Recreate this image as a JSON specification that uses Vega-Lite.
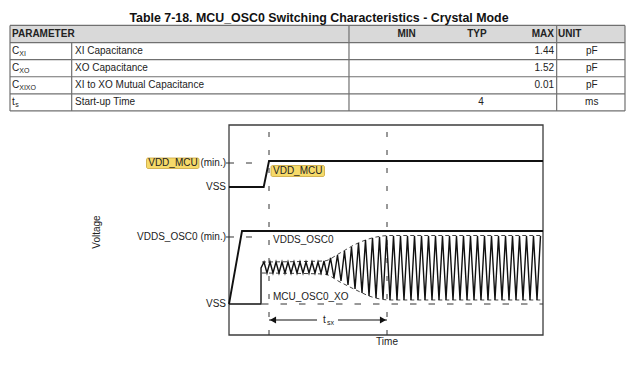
{
  "$schema": "https://vega.github.io/schema/vega-lite/v6.json",
  "width": 640,
  "height": 369,
  "autosize": "none",
  "padding": 0,
  "background": "white",
  "config": {"view": {"stroke": null}, "text": {"font": "Liberation Sans", "color": "#222"}},
  "datasets": {
    "tableTitle": [{"u": 50.24, "r": -0.918, "title": "Table 7-18. MCU_OSC0 Switching Characteristics - Crystal Mode"}],
    "tableFill": [{"u": 0, "u2": 100, "r": -0.5, "r2": 0.5}],
    "tableGrid": [
      {"u": 0, "u2": 100, "r": -0.5, "r2": -0.5},
      {"u": 0, "u2": 100, "r": 0.5, "r2": 0.5},
      {"u": 0, "u2": 100, "r": 1.5, "r2": 1.5},
      {"u": 0, "u2": 100, "r": 2.5, "r2": 2.5},
      {"u": 0, "u2": 100, "r": 3.5, "r2": 3.5},
      {"u": 0, "u2": 100, "r": 4.5, "r2": 4.5},
      {"u": 0, "u2": 0, "r": -0.5, "r2": 4.5},
      {"u": 10.03, "u2": 10.03, "r": 0.5, "r2": 4.5},
      {"u": 55.12, "u2": 55.12, "r": -0.5, "r2": 4.5},
      {"u": 88.89, "u2": 88.89, "r": -0.5, "r2": 4.5},
      {"u": 100, "u2": 100, "r": -0.5, "r2": 4.5}
    ],
    "tableHeader": [
      {"label": "PARAMETER", "u": 0.33, "r": 0},
      {"label": "MIN", "u": 64.5, "r": 0},
      {"label": "TYP", "u": 75.93, "r": 0},
      {"label": "MAX", "u": 88.46, "r": 0},
      {"label": "UNIT", "u": 89.11, "r": 0}
    ],
    "tableRows": [
      {"r": 1, "sym": "C", "sub": "XI", "param": "XI Capacitance", "max": "1.44", "unit": "pF"},
      {"r": 2, "sym": "C", "sub": "XO", "param": "XO Capacitance", "max": "1.52", "unit": "pF"},
      {"r": 3, "sym": "C", "sub": "XIXO", "param": "XI to XO Mutual Capacitance", "max": "0.01", "unit": "pF"},
      {"r": 4, "sym": "t", "sub": "s", "param": "Start-up Time", "typ": "4", "unit": "ms"}
    ],
    "highlights": [
      {"t": -26.27, "t2": -9.55, "v": 84.29, "v2": 79.29},
      {"t": 13.38, "t2": 30.41, "v": 80.71, "v2": 75.48}
    ],
    "frame": [{"t": 0, "t2": 100, "v": 0, "v2": 100}],
    "signals": [
      {"signal": "VDD_MCU", "t": 0, "v": 70.48},
      {"signal": "VDD_MCU", "t": 11.05, "v": 70.48},
      {"signal": "VDD_MCU", "t": 12.74, "v": 82.86},
      {"signal": "VDD_MCU", "t": 100, "v": 82.86},
      {"signal": "VDDS_OSC0", "t": 0, "v": 14.76},
      {"signal": "VDDS_OSC0", "t": 4.14, "v": 49.52},
      {"signal": "VDDS_OSC0", "t": 100, "v": 49.52}
    ],
    "xo": [
      {"t": 0, "v": 14.76}, {"t": 10.19, "v": 14.76}, {"t": 10.2, "v": 31.9}, {"t": 11.15, "v": 34.76},
      {"t": 12.10, "v": 29.52}, {"t": 13.06, "v": 34.76}, {"t": 14.01, "v": 29.52}, {"t": 14.97, "v": 34.76},
      {"t": 15.92, "v": 29.52}, {"t": 16.88, "v": 34.76}, {"t": 17.83, "v": 29.52}, {"t": 18.79, "v": 34.76},
      {"t": 19.75, "v": 29.52}, {"t": 20.70, "v": 34.76}, {"t": 21.66, "v": 29.52}, {"t": 22.61, "v": 34.76},
      {"t": 23.57, "v": 29.52}, {"t": 24.52, "v": 34.76}, {"t": 25.48, "v": 29.52}, {"t": 26.43, "v": 34.76},
      {"t": 27.39, "v": 29.52}, {"t": 28.34, "v": 34.76}, {"t": 29.30, "v": 29.52}, {"t": 30.25, "v": 35.24},
      {"t": 31.21, "v": 28.57}, {"t": 32.32, "v": 36.67}, {"t": 33.44, "v": 27.14}, {"t": 34.55, "v": 38.10},
      {"t": 35.67, "v": 25.71}, {"t": 36.78, "v": 40.00}, {"t": 37.90, "v": 23.81}, {"t": 39.01, "v": 41.90},
      {"t": 40.13, "v": 21.90}, {"t": 41.24, "v": 43.81}, {"t": 42.36, "v": 20.00}, {"t": 43.47, "v": 45.24},
      {"t": 44.59, "v": 18.57}, {"t": 45.70, "v": 46.19}, {"t": 46.82, "v": 17.62}, {"t": 47.93, "v": 46.67},
      {"t": 49.04, "v": 17.14}, {"t": 50.16, "v": 47.14},
      {"t": 51.27, "v": 16.67}, {"t": 52.39, "v": 47.14}, {"t": 53.50, "v": 16.67}, {"t": 54.62, "v": 47.14},
      {"t": 55.73, "v": 16.67}, {"t": 56.85, "v": 47.14}, {"t": 57.96, "v": 16.67}, {"t": 59.08, "v": 47.14},
      {"t": 60.19, "v": 16.67}, {"t": 61.31, "v": 47.14}, {"t": 62.42, "v": 16.67}, {"t": 63.54, "v": 47.14},
      {"t": 64.65, "v": 16.67}, {"t": 65.76, "v": 47.14}, {"t": 66.88, "v": 16.67}, {"t": 67.99, "v": 47.14},
      {"t": 69.11, "v": 16.67}, {"t": 70.22, "v": 47.14}, {"t": 71.34, "v": 16.67}, {"t": 72.45, "v": 47.14},
      {"t": 73.57, "v": 16.67}, {"t": 74.68, "v": 47.14}, {"t": 75.80, "v": 16.67}, {"t": 76.91, "v": 47.14},
      {"t": 78.03, "v": 16.67}, {"t": 79.14, "v": 47.14}, {"t": 80.25, "v": 16.67}, {"t": 81.37, "v": 47.14},
      {"t": 82.48, "v": 16.67}, {"t": 83.60, "v": 47.14}, {"t": 84.71, "v": 16.67}, {"t": 85.83, "v": 47.14},
      {"t": 86.94, "v": 16.67}, {"t": 88.06, "v": 47.14}, {"t": 89.17, "v": 16.67}, {"t": 90.29, "v": 47.14},
      {"t": 91.40, "v": 16.67}, {"t": 92.52, "v": 47.14}, {"t": 93.63, "v": 16.67}, {"t": 94.75, "v": 47.14},
      {"t": 95.86, "v": 16.67}, {"t": 96.97, "v": 47.14}, {"t": 98.09, "v": 16.67}, {"t": 99.20, "v": 47.14}
    ],
    "envelope": [
      {"edge": "upper", "t": 10.51, "v": 34.76}, {"edge": "upper", "t": 30.25, "v": 35.24},
      {"edge": "upper", "t": 35.35, "v": 39.05}, {"edge": "upper", "t": 40.45, "v": 43.33},
      {"edge": "upper", "t": 45.54, "v": 46.19}, {"edge": "upper", "t": 51.27, "v": 47.38},
      {"edge": "upper", "t": 100, "v": 47.38},
      {"edge": "lower", "t": 10.51, "v": 29.52}, {"edge": "lower", "t": 30.25, "v": 29.05},
      {"edge": "lower", "t": 35.35, "v": 25.24}, {"edge": "lower", "t": 40.45, "v": 21.43},
      {"edge": "lower", "t": 45.54, "v": 18.10}, {"edge": "lower", "t": 51.27, "v": 16.67},
      {"edge": "lower", "t": 100, "v": 16.67}
    ],
    "markers": [
      {"t": 12.74, "t2": 12.74, "v": 0, "v2": 100},
      {"t": 50.32, "t2": 50.32, "v": 0, "v2": 100}
    ],
    "baseline": [{"t": 10.51, "t2": 100, "v": 14.76, "v2": 14.76}],
    "ticks": [
      {"t": -0.96, "t2": 1.59, "v": 81.9},
      {"t": 5.41, "t2": 7.32, "v": 81.9},
      {"t": -0.96, "t2": 1.59, "v": 46.67},
      {"t": 5.41, "t2": 7.32, "v": 46.67}
    ],
    "arrow": [
      {"t": 12.74, "t2": 28.03, "v": 7.14},
      {"t": 34.71, "t2": 50.32, "v": 7.14}
    ],
    "arrowHeads": [
      {"t": 14.01, "v": 7.14, "dir": "left"},
      {"t": 49.04, "v": 7.14, "dir": "right"}
    ],
    "yLabels": [
      {"v": 81.9, "label": "VDD_MCU (min.)"},
      {"v": 70.48, "label": "VSS"},
      {"v": 46.67, "label": "VDDS_OSC0 (min.)"},
      {"v": 14.76, "label": "VSS"}
    ],
    "signalLabels": [
      {"t": 14.01, "v": 78.1, "label": "VDD_MCU"},
      {"t": 14.01, "v": 45.24, "label": "VDDS_OSC0"},
      {"t": 14.01, "v": 18.1, "label": "MCU_OSC0_XO"}
    ],
    "tsx": [{"v": 7.14, "main": "t", "sub": "sx"}],
    "axisTitles": [
      {"t": 50.32, "v": -3.33, "label": "Time"},
      {"t": -41.88, "v": 49.05, "label": "Voltage"}
    ]
  },
  "layer": [
    {
      "encoding": {
        "y": {"field": "r", "type": "quantitative", "scale": {"domain": [-1.988, 19.59], "nice": false, "zero": false, "reverse": true}, "axis": null}
      },
      "layer": [
        {"data": {"name": "tableFill"}, "mark": {"type": "rect", "fill": "#d9d9d9"}, "encoding": {"x": {"field": "u", "type": "quantitative", "scale": {"domain": [-1.626, 102.44], "nice": false, "zero": false}, "axis": null}, "x2": {"field": "u2"}, "y2": {"field": "r2"}}},
        {"data": {"name": "tableGrid"}, "mark": {"type": "rule", "color": "#707070", "strokeWidth": 1.2}, "encoding": {"x": {"field": "u", "type": "quantitative", "scale": {"domain": [-1.626, 102.44], "nice": false, "zero": false}, "axis": null}, "x2": {"field": "u2"}, "y2": {"field": "r2"}}},
        {"data": {"name": "tableTitle"}, "mark": {"type": "text", "fontWeight": "bold", "fontSize": 12.4, "align": "center", "baseline": "middle", "color": "#111"}, "encoding": {"x": {"field": "u", "type": "quantitative", "scale": {"domain": [-1.626, 102.44], "nice": false, "zero": false}, "axis": null}, "text": {"field": "title"}}},
        {"data": {"name": "tableHeader"}, "transform": [{"filter": "datum.label == 'PARAMETER' || datum.label == 'UNIT'"}], "mark": {"type": "text", "fontWeight": "bold", "fontSize": 10, "align": "left", "baseline": "middle"}, "encoding": {"x": {"field": "u", "type": "quantitative", "scale": {"domain": [-1.626, 102.44], "nice": false, "zero": false}, "axis": null}, "text": {"field": "label"}}},
        {"data": {"name": "tableHeader"}, "transform": [{"filter": "datum.label == 'MIN' || datum.label == 'TYP'"}], "mark": {"type": "text", "fontWeight": "bold", "fontSize": 10, "align": "center", "baseline": "middle"}, "encoding": {"x": {"field": "u", "type": "quantitative", "scale": {"domain": [-1.626, 102.44], "nice": false, "zero": false}, "axis": null}, "text": {"field": "label"}}},
        {"data": {"name": "tableHeader"}, "transform": [{"filter": "datum.label == 'MAX'"}], "mark": {"type": "text", "fontWeight": "bold", "fontSize": 10, "align": "right", "baseline": "middle"}, "encoding": {"x": {"field": "u", "type": "quantitative", "scale": {"domain": [-1.626, 102.44], "nice": false, "zero": false}, "axis": null}, "text": {"field": "label"}}},
        {"data": {"name": "tableRows"}, "mark": {"type": "text", "fontSize": 10, "align": "left", "baseline": "middle"}, "encoding": {"x": {"datum": 0.33, "type": "quantitative", "scale": {"domain": [-1.626, 102.44], "nice": false, "zero": false}, "axis": null}, "text": {"field": "sym"}}},
        {"data": {"name": "tableRows"}, "transform": [{"filter": "datum.sym == 'C'"}], "mark": {"type": "text", "fontSize": 7, "align": "left", "baseline": "middle", "dy": 3}, "encoding": {"x": {"datum": 1.5, "type": "quantitative", "scale": {"domain": [-1.626, 102.44], "nice": false, "zero": false}, "axis": null}, "text": {"field": "sub"}}},
        {"data": {"name": "tableRows"}, "transform": [{"filter": "datum.sym == 't'"}], "mark": {"type": "text", "fontSize": 7, "align": "left", "baseline": "middle", "dy": 3}, "encoding": {"x": {"datum": 0.86, "type": "quantitative", "scale": {"domain": [-1.626, 102.44], "nice": false, "zero": false}, "axis": null}, "text": {"field": "sub"}}},
        {"data": {"name": "tableRows"}, "mark": {"type": "text", "fontSize": 10, "align": "left", "baseline": "middle"}, "encoding": {"x": {"datum": 10.57, "type": "quantitative", "scale": {"domain": [-1.626, 102.44], "nice": false, "zero": false}, "axis": null}, "text": {"field": "param"}}},
        {"data": {"name": "tableRows"}, "transform": [{"filter": "isValid(datum.typ)"}], "mark": {"type": "text", "fontSize": 10, "align": "center", "baseline": "middle"}, "encoding": {"x": {"datum": 76.59, "type": "quantitative", "scale": {"domain": [-1.626, 102.44], "nice": false, "zero": false}, "axis": null}, "text": {"field": "typ"}}},
        {"data": {"name": "tableRows"}, "transform": [{"filter": "isValid(datum.max)"}], "mark": {"type": "text", "fontSize": 10, "align": "right", "baseline": "middle"}, "encoding": {"x": {"datum": 88.46, "type": "quantitative", "scale": {"domain": [-1.626, 102.44], "nice": false, "zero": false}, "axis": null}, "text": {"field": "max"}}},
        {"data": {"name": "tableRows"}, "mark": {"type": "text", "fontSize": 10, "align": "center", "baseline": "middle"}, "encoding": {"x": {"datum": 94.59, "type": "quantitative", "scale": {"domain": [-1.626, 102.44], "nice": false, "zero": false}, "axis": null}, "text": {"field": "unit"}}}
      ]
    },
    {
      "encoding": {
        "y": {"field": "v", "type": "quantitative", "scale": {"domain": [-16.19, 159.52], "nice": false, "zero": false}, "axis": null}
      },
      "layer": [
        {"data": {"name": "highlights"}, "mark": {"type": "rect", "fill": "#f6da6a", "stroke": "#c9a53a", "strokeWidth": 0.8, "cornerRadius": 1.5}, "encoding": {"x": {"field": "t", "type": "quantitative", "scale": {"domain": [-72.93, 130.89], "nice": false, "zero": false}, "axis": null}, "x2": {"field": "t2"}, "y2": {"field": "v2"}}},
        {"data": {"name": "frame"}, "mark": {"type": "rect", "fill": null, "fillOpacity": 0, "stroke": "#3c3c3c", "strokeWidth": 1.3}, "encoding": {"x": {"field": "t", "type": "quantitative", "scale": {"domain": [-72.93, 130.89], "nice": false, "zero": false}, "axis": null}, "x2": {"field": "t2"}, "y2": {"field": "v2"}}},
        {"data": {"name": "markers"}, "mark": {"type": "rule", "color": "#333", "strokeWidth": 1, "strokeDash": [5, 13]}, "encoding": {"x": {"field": "t", "type": "quantitative", "scale": {"domain": [-72.93, 130.89], "nice": false, "zero": false}, "axis": null}, "x2": {"field": "t2"}, "y2": {"field": "v2"}}},
        {"data": {"name": "baseline"}, "mark": {"type": "rule", "color": "#333", "strokeWidth": 1, "strokeDash": [6.5, 12]}, "encoding": {"x": {"field": "t", "type": "quantitative", "scale": {"domain": [-72.93, 130.89], "nice": false, "zero": false}, "axis": null}, "x2": {"field": "t2"}, "y2": {"field": "v2"}}},
        {"data": {"name": "ticks"}, "mark": {"type": "rule", "color": "#333", "strokeWidth": 1}, "encoding": {"x": {"field": "t", "type": "quantitative", "scale": {"domain": [-72.93, 130.89], "nice": false, "zero": false}, "axis": null}, "x2": {"field": "t2"}}},
        {"data": {"name": "envelope"}, "mark": {"type": "line", "color": "#444", "strokeWidth": 1, "strokeDash": [4, 3], "interpolate": "monotone"}, "encoding": {"x": {"field": "t", "type": "quantitative", "scale": {"domain": [-72.93, 130.89], "nice": false, "zero": false}, "axis": null}, "detail": {"field": "edge"}}},
        {"data": {"name": "signals"}, "mark": {"type": "line", "color": "#111", "strokeWidth": 1.9}, "encoding": {"x": {"field": "t", "type": "quantitative", "scale": {"domain": [-72.93, 130.89], "nice": false, "zero": false}, "axis": null}, "detail": {"field": "signal"}}},
        {"data": {"name": "xo"}, "mark": {"type": "line", "color": "#111", "strokeWidth": 1.4}, "encoding": {"x": {"field": "t", "type": "quantitative", "scale": {"domain": [-72.93, 130.89], "nice": false, "zero": false}, "axis": null}}},
        {"data": {"name": "arrow"}, "mark": {"type": "rule", "color": "#111", "strokeWidth": 1}, "encoding": {"x": {"field": "t", "type": "quantitative", "scale": {"domain": [-72.93, 130.89], "nice": false, "zero": false}, "axis": null}, "x2": {"field": "t2"}}},
        {"data": {"name": "arrowHeads"}, "mark": {"type": "point", "filled": true, "color": "#111", "size": 50, "opacity": 1}, "encoding": {"x": {"field": "t", "type": "quantitative", "scale": {"domain": [-72.93, 130.89], "nice": false, "zero": false}, "axis": null}, "shape": {"field": "dir", "type": "nominal", "scale": {"domain": ["left", "right"], "range": ["triangle-left", "triangle-right"]}, "legend": null}}},
        {"data": {"name": "yLabels"}, "mark": {"type": "text", "fontSize": 10, "align": "right", "baseline": "middle"}, "encoding": {"x": {"datum": -0.96, "type": "quantitative", "scale": {"domain": [-72.93, 130.89], "nice": false, "zero": false}, "axis": null}, "text": {"field": "label"}}},
        {"data": {"name": "signalLabels"}, "mark": {"type": "text", "fontSize": 10, "align": "left", "baseline": "middle"}, "encoding": {"x": {"field": "t", "type": "quantitative", "scale": {"domain": [-72.93, 130.89], "nice": false, "zero": false}, "axis": null}, "text": {"field": "label"}}},
        {"data": {"name": "tsx"}, "mark": {"type": "text", "fontSize": 10, "align": "left", "baseline": "middle"}, "encoding": {"x": {"datum": 29.94, "type": "quantitative", "scale": {"domain": [-72.93, 130.89], "nice": false, "zero": false}, "axis": null}, "text": {"field": "main"}}},
        {"data": {"name": "tsx"}, "mark": {"type": "text", "fontSize": 7, "align": "left", "baseline": "middle", "dy": 3}, "encoding": {"x": {"datum": 31.21, "type": "quantitative", "scale": {"domain": [-72.93, 130.89], "nice": false, "zero": false}, "axis": null}, "text": {"field": "sub"}}},
        {"data": {"name": "axisTitles"}, "transform": [{"filter": "datum.label == 'Time'"}], "mark": {"type": "text", "fontSize": 10, "align": "center", "baseline": "middle"}, "encoding": {"x": {"field": "t", "type": "quantitative", "scale": {"domain": [-72.93, 130.89], "nice": false, "zero": false}, "axis": null}, "text": {"field": "label"}}},
        {"data": {"name": "axisTitles"}, "transform": [{"filter": "datum.label == 'Voltage'"}], "mark": {"type": "text", "fontSize": 10, "align": "center", "baseline": "middle", "angle": 270}, "encoding": {"x": {"field": "t", "type": "quantitative", "scale": {"domain": [-72.93, 130.89], "nice": false, "zero": false}, "axis": null}, "text": {"field": "label"}}}
      ]
    }
  ],
  "resolve": {"scale": {"x": "independent", "y": "independent"}}
}
